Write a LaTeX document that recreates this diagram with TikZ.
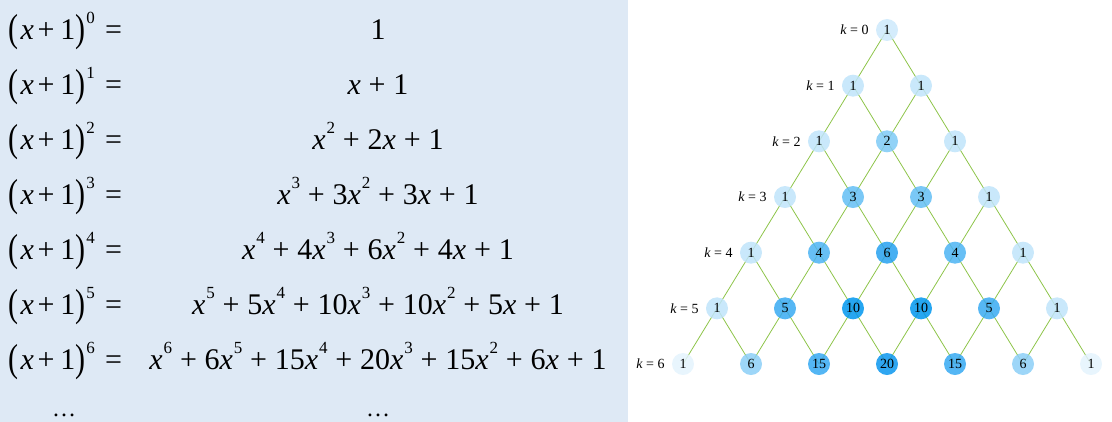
\documentclass[tikz,border=0pt]{standalone}
\usepackage{fontspec}
\setmainfont{Liberation Serif}
\usetikzlibrary{positioning}

\definecolor{panel}{HTML}{DEE9F5}
\definecolor{edgegreen}{HTML}{8DC449}
\definecolor{pa}{HTML}{CDE9FB}
\definecolor{pb}{HTML}{C0E4FA}
\definecolor{pc}{HTML}{E4F3FD}
\definecolor{ptwo}{HTML}{7ECAF6}
\definecolor{pthree}{HTML}{63BEF4}
\definecolor{pfour}{HTML}{4CB4F3}
\definecolor{psix}{HTML}{26A1F0}
\definecolor{pfive}{HTML}{38AAF2}
\definecolor{pten}{HTML}{0096EE}
\definecolor{psixb}{HTML}{8CCFF7}
\definecolor{pfifteen}{HTML}{36A9F2}
\definecolor{ptwenty}{HTML}{0A97EE}

\pgfdeclarelayer{edges}
\pgfsetlayers{edges,main}

\newcommand{\pl}{\hspace{0.26em}+\hspace{0.26em}}
\newcommand{\ex}[1]{\raisebox{0.55em}{\fontsize{17}{17}\selectfont #1}}
\newcommand{\xx}[1]{\textit{x}\hspace{0.03em}\ex{#1}}
\newcommand{\pw}[1]{\raisebox{-0.05em}{\scalebox{1}[1.3]{(}}\hspace{0.08em}\textit{x}\hspace{0.12em}+\hspace{0.2em}1\raisebox{-0.05em}{\scalebox{1}[1.3]{)}}\hspace{0.03em}\ex{#1}\hspace{0.34em}=}

\begin{document}
\begin{tikzpicture}[x=1pt,y=-1pt,
  lhs/.style={anchor=base west,inner sep=0pt,font=\fontsize{30}{30}\selectfont},
  rhs/.style={anchor=base,inner sep=0pt,font=\fontsize{30}{30}\selectfont},
  num/.style={circle,minimum size=22pt,inner sep=0pt,fill opacity=0.85,text opacity=1,font=\fontsize{14}{14}\selectfont},
  klab/.style={anchor=east,inner sep=0pt,font=\fontsize{14}{14}\selectfont},
  edge/.style={draw=edgegreen,line width=0.8pt}]

% panel with the expansions
\fill[panel] (0,0) rectangle (628,422);
\useasboundingbox (0,0) rectangle (1112,422);

\foreach \k/\expr in {0/{1},
  1/{\textit{x}\pl 1},
  2/{\xx{2}\pl 2\textit{x}\pl 1},
  3/{\xx{3}\pl 3\xx{2}\pl 3\textit{x}\pl 1},
  4/{\xx{4}\pl 4\xx{3}\pl 6\xx{2}\pl 4\textit{x}\pl 1},
  5/{\xx{5}\pl 5\xx{4}\pl 10\xx{3}\pl 10\xx{2}\pl 5\textit{x}\pl 1},
  6/{\xx{6}\pl 6\xx{5}\pl 15\xx{4}\pl 20\xx{3}\pl 15\xx{2}\pl 6\textit{x}\pl 1}}{
  \node[lhs] (lhs\k) at (8,{40+55*\k}) {\pw{\k}};
  \node[rhs] (rhs\k) at (378,{40+55*\k}) {\expr};
}
\node[rhs,font=\fontsize{24}{24}\selectfont] (ldots) at (64,416) {\dots};
\node[rhs,font=\fontsize{24}{24}\selectfont] (rdots) at (378,416) {\dots};

% Pascal triangle
\foreach \k/\row in {0/{1/pa},
  1/{1/pb,1/pb},
  2/{1/pb,2/ptwo,1/pb},
  3/{1/pb,3/pthree,3/pthree,1/pb},
  4/{1/pb,4/pfour,6/psix,4/pfour,1/pb},
  5/{1/pb,5/pfive,10/pten,10/pten,5/pfive,1/pb},
  6/{1/pc,6/psixb,15/pfifteen,20/ptwenty,15/pfifteen,6/psixb,1/pc}}{
  \foreach \v/\c [count=\j from 0] in \row {
    \node[num,fill=\c] (n\k-\j) at ({887+34*(2*\j-\k)},{30+55.67*\k}) {\v};
  }
  \node[klab] (k\k) at ([xshift=-7pt]n\k-0.west) {\textit{k} = \k};
}
\begin{pgfonlayer}{edges}
\foreach \k in {0,...,5}{
  \foreach \j in {0,...,\k}{
    \pgfmathtruncatemacro\kk{\k+1}
    \pgfmathtruncatemacro\jj{\j+1}
    \draw[edge] (n\k-\j.center) -- (n\kk-\j.center);
    \draw[edge] (n\k-\j.center) -- (n\kk-\jj.center);
  }
}
\end{pgfonlayer}
\end{tikzpicture}
\end{document}
